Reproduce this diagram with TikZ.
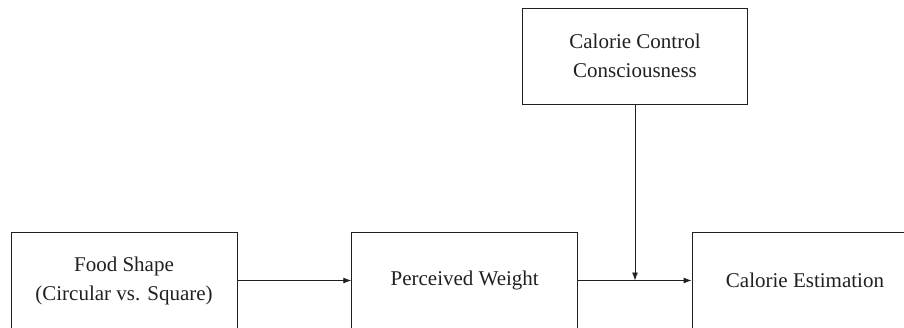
\documentclass[tikz,border=0pt]{standalone}
\usepackage{fontspec}
\setmainfont{Liberation Serif}
\usetikzlibrary{arrows.meta}
\definecolor{ink}{HTML}{231F20}
\begin{document}
\begin{tikzpicture}[x=1pt,y=-1pt,
  box/.style={draw=ink, line width=0.9pt, text=ink, align=center,
    minimum width=226pt, minimum height=97pt, inner sep=0pt,
    font=\fontsize{21}{29}\selectfont},
  conn/.style={draw=ink, line width=0.9pt, -{Latex[length=8pt,width=6pt]}}]
\useasboundingbox (0,0) rectangle (904,327);
\clip (0,0) rectangle (904,327);
\node[box] (food) at (124,280.5) {Food Shape\\(Circular vs. Square)};
\node[box] (perc) at (464.7,280.5) {Perceived Weight};
\node[box] (cal) at (805,280.5) {Calorie Estimation};
\node[box, minimum width=225.4pt, minimum height=95.7pt] (ccc) at (635,56.2) {Calorie Control\\Consciousness};
\coordinate (mod) at (ccc.south |- perc.east);
\draw[conn] (food.east) -- (perc.west);
\draw[conn] (perc.east) -- (cal.west);
\draw[conn] (ccc.south) -- (mod);
\end{tikzpicture}
\end{document}
